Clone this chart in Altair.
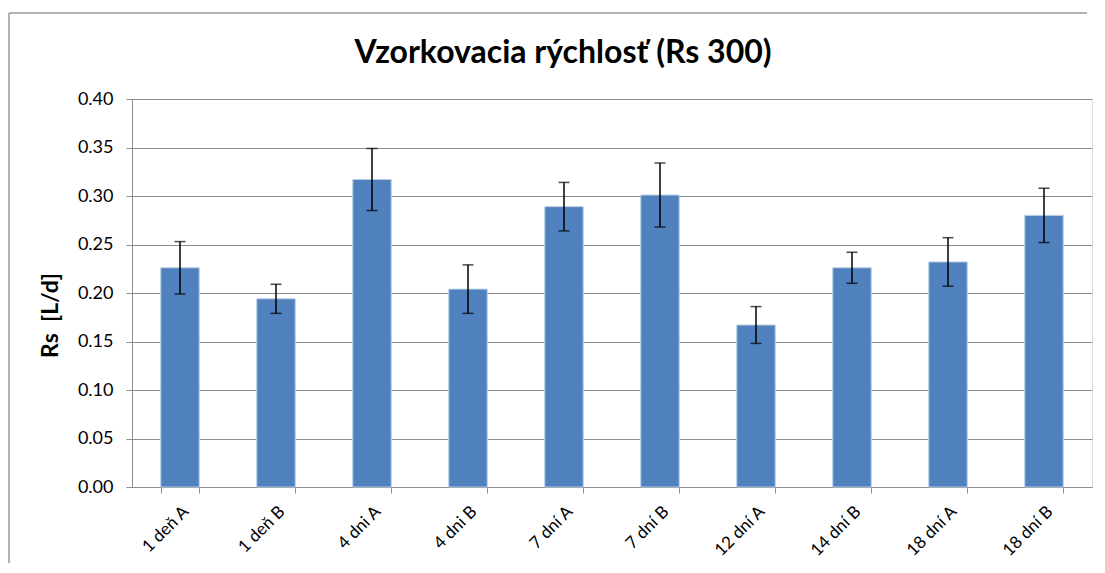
import altair as alt
import pandas as pd

categories = ["1 deň A", "1 deň B", "4 dni A", "4 dni B", "7 dní A",
              "7 dní B", "12 dní A", "14 dní B", "18 dní A", "18 dní B"]
rs_values = [0.226, 0.194, 0.317, 0.204, 0.289, 0.301, 0.167, 0.226, 0.232, 0.280]
rs_errors = [0.027, 0.015, 0.032, 0.025, 0.025, 0.033, 0.019, 0.016, 0.025, 0.028]
y_ticks = [0.0, 0.05, 0.10, 0.15, 0.20, 0.25, 0.30, 0.35, 0.40]

df = pd.DataFrame({"cat": categories, "rs": rs_values, "err": rs_errors})
df["lo"] = df["rs"] - df["err"]
df["hi"] = df["rs"] + df["err"]

FONT = "Lato"
GRID = "#8c8c8c"

x_enc = alt.X("cat:N", sort=categories, title=None,
              scale=alt.Scale(paddingInner=0.6, paddingOuter=0.3),
              axis=alt.Axis(labelAngle=-45, labelFontSize=17, labelColor="#000000",
                            labelFont=FONT, domainColor=GRID, tickColor=GRID,
                            tickSize=6, labelPadding=10, tickBand="extent"))

y_scale = alt.Scale(domain=[0, 0.4], nice=False)

bars = alt.Chart(df).mark_bar(color="#4F81BD", stroke="#B9CDE5", strokeWidth=1).encode(
    x=x_enc,
    y=alt.Y("rs:Q", scale=y_scale, title="Rs\u00a0\u00a0[L/d]",
            axis=alt.Axis(values=y_ticks, format=".2f", labelFontSize=18,
                          labelFont=FONT, labelColor="#000000", labelPadding=13,
                          grid=True, gridColor=GRID, gridWidth=1,
                          domainColor=GRID, tickColor=GRID, tickSize=6,
                          titleFont=FONT, titleFontSize=23, titleFontWeight="bold",
                          titleColor="#000000", titleX=-82, titleY=216,
                          titleAlign="center", titleBaseline="middle")),
)

rules = alt.Chart(df).mark_rule(color="#000000", strokeWidth=1.5).encode(
    x=alt.X("cat:N", sort=categories),
    y=alt.Y("lo:Q", scale=y_scale),
    y2="hi:Q",
)

caps_hi = alt.Chart(df).mark_tick(color="#000000", thickness=1.5, size=11).encode(
    x=alt.X("cat:N", sort=categories),
    y=alt.Y("hi:Q", scale=y_scale),
)
caps_lo = alt.Chart(df).mark_tick(color="#000000", thickness=1.5, size=11).encode(
    x=alt.X("cat:N", sort=categories),
    y=alt.Y("lo:Q", scale=y_scale),
)

# outer chart-area frame edges (decoration, like the spreadsheet chart border)
frame_data = pd.DataFrame({"f": [0]})
frame_top = alt.Chart(frame_data).mark_rule(color="#9a9a9a", strokeWidth=1.5).encode(
    x=alt.value(-123), x2=alt.value(955), y=alt.value(-86),
)
frame_left = alt.Chart(frame_data).mark_rule(color="#9a9a9a", strokeWidth=1.5).encode(
    x=alt.value(-123), y=alt.value(-86), y2=alt.value(470),
)

chart = alt.layer(frame_top, frame_left, bars, rules, caps_hi, caps_lo).properties(
    width=960,
    height=388,
    autosize=alt.AutoSizeParams(type="none"),
    padding={"left": 124, "top": 91, "right": 5, "bottom": 76},
    title=alt.TitleParams("Vzorkovacia rýchlosť (Rs 300)", font=FONT, fontSize=32,
                          fontWeight="bold", color="#000000", anchor="middle",
                          dx=-49, dy=85, offset=27),
).configure_view(strokeWidth=0).configure(background="#ffffff")

chart.save("out.html", embed_options={"renderer": "svg", "actions": False})
